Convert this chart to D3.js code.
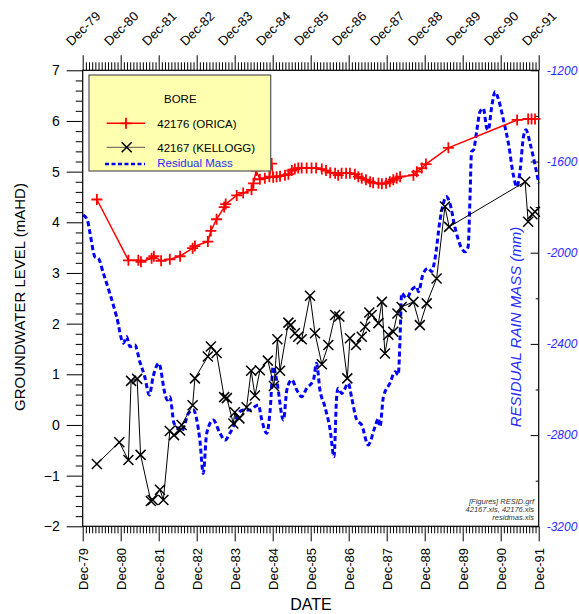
<!DOCTYPE html>
<html><head><meta charset="utf-8">
<script src="https://cdn.jsdelivr.net/npm/d3@7/dist/d3.min.js"></script>
<style>
body{margin:0;background:#fff;}
svg{display:block;font-family:Arial,"Liberation Sans",sans-serif;}
</style></head><body>
<svg id="chart" width="579" height="614"></svg>
<script>
// ---------- data ----------
const xTickLabels = ["Dec-79","Dec-80","Dec-81","Dec-82","Dec-83","Dec-84","Dec-85","Dec-86","Dec-87","Dec-88","Dec-89","Dec-90","Dec-91"];
const xTickYears = [1979.917,1980.917,1981.917,1982.917,1983.917,1984.917,1985.917,1986.917,1987.917,1988.917,1989.917,1990.917,1991.917];
const leftTicks = [-2,-1,0,1,2,3,4,5,6,7];
const rightTicks = [-3200,-2800,-2400,-2000,-1600,-1200];

const oricaYear = [1980.29,1981.12,1981.38,1981.45,1981.73,1981.79,1981.98,1982.21,1982.48,1982.81,1982.87,1983.21,1983.29,1983.44,1983.64,1983.68,1983.97,1984.14,1984.36,1984.41,1984.48,1984.58,1984.71,1984.83,1984.89,1984.93,1985.02,1985.11,1985.24,1985.33,1985.42,1985.50,1985.59,1985.68,1985.81,1985.94,1986.06,1986.21,1986.32,1986.43,1986.56,1986.64,1986.73,1986.85,1986.95,1987.08,1987.17,1987.26,1987.37,1987.48,1987.56,1987.70,1987.79,1987.90,1988.00,1988.09,1988.18,1988.27,1988.62,1988.71,1988.84,1988.95,1989.54,1991.35,1991.64,1991.73,1991.82];
const oricaLevel = [4.45,3.25,3.25,3.22,3.29,3.33,3.24,3.27,3.33,3.49,3.53,3.62,3.83,4.06,4.30,4.36,4.53,4.58,4.64,4.77,5.02,4.85,4.87,4.90,5.16,4.89,4.90,4.91,4.93,4.95,5.02,5.05,5.07,5.07,5.07,5.07,5.07,5.05,5.02,4.98,4.97,4.93,4.97,4.97,4.97,4.95,4.90,4.87,4.84,4.80,4.78,4.77,4.76,4.77,4.80,4.84,4.87,4.90,4.93,5.00,5.07,5.15,5.47,6.02,6.04,6.04,6.04];

const kelloggYear = [1980.29,1980.88,1981.12,1981.19,1981.35,1981.44,1981.71,1981.76,1981.95,1982.04,1982.21,1982.32,1982.48,1982.52,1982.81,1982.87,1983.21,1983.29,1983.44,1983.64,1983.71,1983.88,1983.92,1984.04,1984.23,1984.35,1984.45,1984.58,1984.79,1984.95,1985.04,1985.11,1985.33,1985.39,1985.50,1985.59,1985.68,1985.90,1986.03,1986.21,1986.38,1986.56,1986.67,1986.88,1986.95,1987.11,1987.26,1987.35,1987.46,1987.52,1987.70,1987.79,1987.87,1987.96,1988.09,1988.20,1988.31,1988.62,1988.79,1988.97,1989.23,1989.45,1989.56,1991.56,1991.64,1991.75,1991.82];
const kelloggLevel = [-0.77,-0.34,-0.69,0.87,0.91,-0.59,-1.50,-1.48,-1.28,-1.48,-0.12,-0.20,-0.11,0.00,0.39,0.92,1.35,1.55,1.42,0.55,0.53,0.03,0.25,0.13,0.35,1.07,0.58,1.08,1.27,0.77,1.69,1.07,2.02,1.97,1.81,1.74,1.69,2.55,1.81,1.20,1.58,2.17,2.14,0.92,1.71,1.58,1.74,1.94,2.22,2.17,2.01,2.43,1.41,1.78,1.84,2.20,2.33,2.43,1.97,2.40,2.89,4.31,3.91,4.80,4.01,4.16,4.21];

const massYear = [1979.93,1980.04,1980.11,1980.24,1980.33,1980.46,1980.63,1980.81,1980.99,1981.07,1981.16,1981.29,1981.42,1981.55,1981.67,1981.77,1981.92,1982.08,1982.14,1982.21,1982.32,1982.43,1982.52,1982.61,1982.70,1982.83,1982.92,1983.00,1983.09,1983.18,1983.35,1983.53,1983.66,1983.79,1983.88,1984.01,1984.14,1984.32,1984.45,1984.54,1984.63,1984.76,1984.85,1984.93,1985.02,1985.20,1985.29,1985.42,1985.55,1985.68,1985.81,1985.99,1986.07,1986.16,1986.29,1986.43,1986.53,1986.60,1986.64,1986.73,1986.91,1986.99,1987.13,1987.26,1987.43,1987.61,1987.70,1987.74,1987.83,1988.00,1988.14,1988.22,1988.27,1988.31,1988.44,1988.57,1988.71,1988.75,1988.88,1989.01,1989.10,1989.19,1989.32,1989.41,1989.48,1989.58,1989.71,1989.89,1989.98,1990.06,1990.11,1990.15,1990.20,1990.29,1990.37,1990.46,1990.55,1990.59,1990.68,1990.77,1990.85,1990.99,1991.12,1991.25,1991.34,1991.43,1991.51,1991.58,1991.69,1991.82,1991.92];
const massValue = [-1835,-1857,-1915,-2018,-2025,-2090,-2178,-2281,-2397,-2368,-2412,-2405,-2478,-2544,-2624,-2544,-2485,-2617,-2646,-2632,-2748,-2770,-2785,-2748,-2704,-2690,-2734,-2822,-2968,-2792,-2734,-2792,-2822,-2792,-2763,-2704,-2690,-2690,-2675,-2668,-2734,-2792,-2690,-2500,-2558,-2734,-2602,-2558,-2602,-2632,-2595,-2558,-2485,-2602,-2675,-2778,-2895,-2632,-2595,-2617,-2573,-2632,-2734,-2756,-2843,-2763,-2726,-2763,-2632,-2573,-2522,-2536,-2368,-2178,-2200,-2164,-2149,-2171,-2090,-2068,-2083,-2025,-1857,-1783,-1754,-1783,-1886,-1981,-1996,-1974,-1754,-1557,-1550,-1462,-1382,-1367,-1454,-1462,-1360,-1294,-1323,-1418,-1520,-1659,-1711,-1637,-1498,-1461,-1520,-1615,-1696];

const legendTitle = "BORE";
const legendLabels = ["42176 (ORICA)","42167 (KELLOGG)","Residual Mass"];
const noteLines = ["[Figures] RESID.grf","42167.xls, 42176.xls","residmas.xls"];

// ---------- layout ----------
const L = 82.7, R = 538.7, T = 70.3, B = 526.3;
const svg = d3.select("#chart");
const x = d3.scaleLinear().domain([xTickYears[0], xTickYears[xTickYears.length-1]]).range([L, R]);
const yL = d3.scaleLinear().domain([-2, 7]).range([B, T]);
const yR = d3.scaleLinear().domain([-3200, -1200]).range([B, T]);

const monthMinor = d3.range(0, 145).filter(i => i % 12 !== 0).map(i => xTickYears[0] + i / 12);
const leftMinor = d3.range(-20, 71, 2).filter(v => v % 10 !== 0).map(v => v / 10);
const rightMinor = [-3000,-2600,-2200,-1800,-1400];

function clean(g){ g.select(".domain").remove(); g.selectAll(".tick line").attr("stroke","#000").attr("stroke-width",1); }

// top axis
svg.append("g").attr("transform",`translate(0,${T})`).call(d3.axisTop(x).tickValues(monthMinor).tickSize(8).tickFormat("")).call(clean);
svg.append("g").attr("transform",`translate(0,${T})`).call(d3.axisTop(x).tickValues(xTickYears).tickSize(15).tickFormat("")).call(clean);
// bottom axis
svg.append("g").attr("transform",`translate(0,${B})`).call(d3.axisBottom(x).tickValues(monthMinor).tickSize(7).tickFormat("")).call(clean);
svg.append("g").attr("transform",`translate(0,${B})`).call(d3.axisBottom(x).tickValues(xTickYears).tickSize(15).tickFormat("")).call(clean);
// left axis
svg.append("g").attr("transform",`translate(${L},0)`).call(d3.axisLeft(yL).tickValues(leftMinor).tickSize(7).tickFormat("")).call(clean);
const gl = svg.append("g").attr("transform",`translate(${L},0)`).call(d3.axisLeft(yL).tickValues(leftTicks).tickSize(16).tickPadding(7).tickFormat(d3.format("d"))).call(clean);
gl.selectAll(".tick text").attr("font-size","14px").attr("fill","#000").attr("font-family",'Arial,"Liberation Sans",sans-serif');
// right axis (ticks inward)
svg.append("g").attr("transform",`translate(${R},0)`).call(d3.axisLeft(yR).tickValues(rightMinor).tickSize(3).tickFormat("")).call(clean);
svg.append("g").attr("transform",`translate(${R},0)`).call(d3.axisLeft(yR).tickValues(rightTicks).tickSize(8).tickFormat("")).call(clean);
svg.append("g").selectAll("text").data(rightTicks).join("text")
  .attr("x", R + 8).attr("y", d => yR(d)).attr("dy","0.35em")
  .attr("font-size","12px").attr("font-style","italic").attr("fill","#2a2aff").text(d => d);

// frame
svg.append("rect").attr("x",L).attr("y",T).attr("width",R-L).attr("height",B-T).attr("fill","none").attr("stroke","#000").attr("stroke-width",1.2);

// x tick labels
svg.append("g").selectAll("text").data(xTickYears).join("text")
  .attr("transform",(d)=>`translate(${x(d)+0.5},28.5) rotate(-45)`)
  .attr("text-anchor","middle").attr("dy","0.35em").attr("font-size","13px").attr("fill","#000")
  .text((d,i)=>xTickLabels[i]);
svg.append("g").selectAll("text").data(xTickYears).join("text")
  .attr("transform",(d)=>`translate(${x(d)+0.5},548) rotate(-90)`)
  .attr("text-anchor","end").attr("dy","0.35em").attr("font-size","13px").attr("fill","#000")
  .text((d,i)=>xTickLabels[i]);

// axis titles
svg.append("text").attr("transform","translate(25,297) rotate(-90)").attr("text-anchor","middle")
  .attr("font-size","15px").attr("fill","#000").text("GROUNDWATER LEVEL (mAHD)");
svg.append("text").attr("x",311).attr("y",610).attr("text-anchor","middle")
  .attr("font-size","16px").attr("fill","#000").text("DATE");
svg.append("text").attr("transform","translate(520.5,327) rotate(-90)").attr("text-anchor","middle")
  .attr("font-size","15px").attr("font-style","italic").attr("fill","#2a2aff").text("RESIDUAL RAIN MASS (mm)");

// notes
svg.append("g").selectAll("text").data(noteLines).join("text")
  .attr("x",534).attr("y",(d,i)=>504 + i*8).attr("text-anchor","end")
  .attr("font-size","7.5px").attr("font-style","italic").attr("fill","#333").text(d=>d);

// ---------- series ----------
const mass = massYear.map((t,i)=>({t, v: massValue[i]}));
const orica = oricaYear.map((t,i)=>({t, v: oricaLevel[i]}));
const kellogg = kelloggYear.map((t,i)=>({t, v: kelloggLevel[i]}));

svg.append("path").datum(mass)
  .attr("d", d3.line().x(d=>x(d.t)).y(d=>yR(d.v)).curve(d3.curveMonotoneX))
  .attr("fill","none").attr("stroke","#0000ff").attr("stroke-width",3).attr("stroke-dasharray","5,3");

svg.append("path").datum(kellogg)
  .attr("d", d3.line().x(d=>x(d.t)).y(d=>yL(d.v)))
  .attr("fill","none").attr("stroke","#000").attr("stroke-width",1);
const xMark = "M-5,-5L5,5M-5,5L5,-5";
svg.append("g").selectAll("path").data(kellogg).join("path")
  .attr("transform",d=>`translate(${x(d.t)},${yL(d.v)})`).attr("d",xMark)
  .attr("stroke","#000").attr("stroke-width",1.5).attr("fill","none");

svg.append("path").datum(orica)
  .attr("d", d3.line().x(d=>x(d.t)).y(d=>yL(d.v)))
  .attr("fill","none").attr("stroke","#ff0000").attr("stroke-width",1.5);
const plusMark = "M-5.5,0H5.5M0,-5.5V5.5";
svg.append("g").selectAll("path").data(orica).join("path")
  .attr("transform",d=>`translate(${x(d.t)},${yL(d.v)})`).attr("d",plusMark)
  .attr("stroke","#ff0000").attr("stroke-width",1.8).attr("fill","none");

// ---------- legend ----------
const lg = svg.append("g");
lg.append("rect").attr("x",89).attr("y",75).attr("width",181.7).attr("height",96)
  .attr("fill","#ffffb0").attr("stroke","#555").attr("stroke-width",1.2);
lg.append("text").attr("x",164).attr("y",103.3).attr("font-size","11.5px").attr("fill","#000").text(legendTitle);
lg.append("line").attr("x1",106.7).attr("x2",145).attr("y1",123.3).attr("y2",123.3).attr("stroke","#ff0000").attr("stroke-width",1.5);
lg.append("path").attr("transform","translate(126,123.3)").attr("d",plusMark).attr("stroke","#ff0000").attr("stroke-width",1.8);
lg.append("text").attr("x",157.3).attr("y",128.3).attr("font-size","11.5px").attr("fill","#000").text(legendLabels[0]);
lg.append("line").attr("x1",106.7).attr("x2",145).attr("y1",147.3).attr("y2",147.3).attr("stroke","#555").attr("stroke-width",1);
lg.append("path").attr("transform","translate(126.7,147.3)").attr("d",xMark).attr("stroke","#000").attr("stroke-width",1.5);
lg.append("text").attr("x",157.3).attr("y",151.7).attr("font-size","11.5px").attr("fill","#000").text(legendLabels[1]);
lg.append("line").attr("x1",105).attr("x2",145).attr("y1",164).attr("y2",164).attr("stroke","#0000ff").attr("stroke-width",2.5).attr("stroke-dasharray","4,2.5");
lg.append("text").attr("x",157.3).attr("y",167.3).attr("font-size","11.5px").attr("fill","#2a2aff").text(legendLabels[2]);
</script>
</body></html>
